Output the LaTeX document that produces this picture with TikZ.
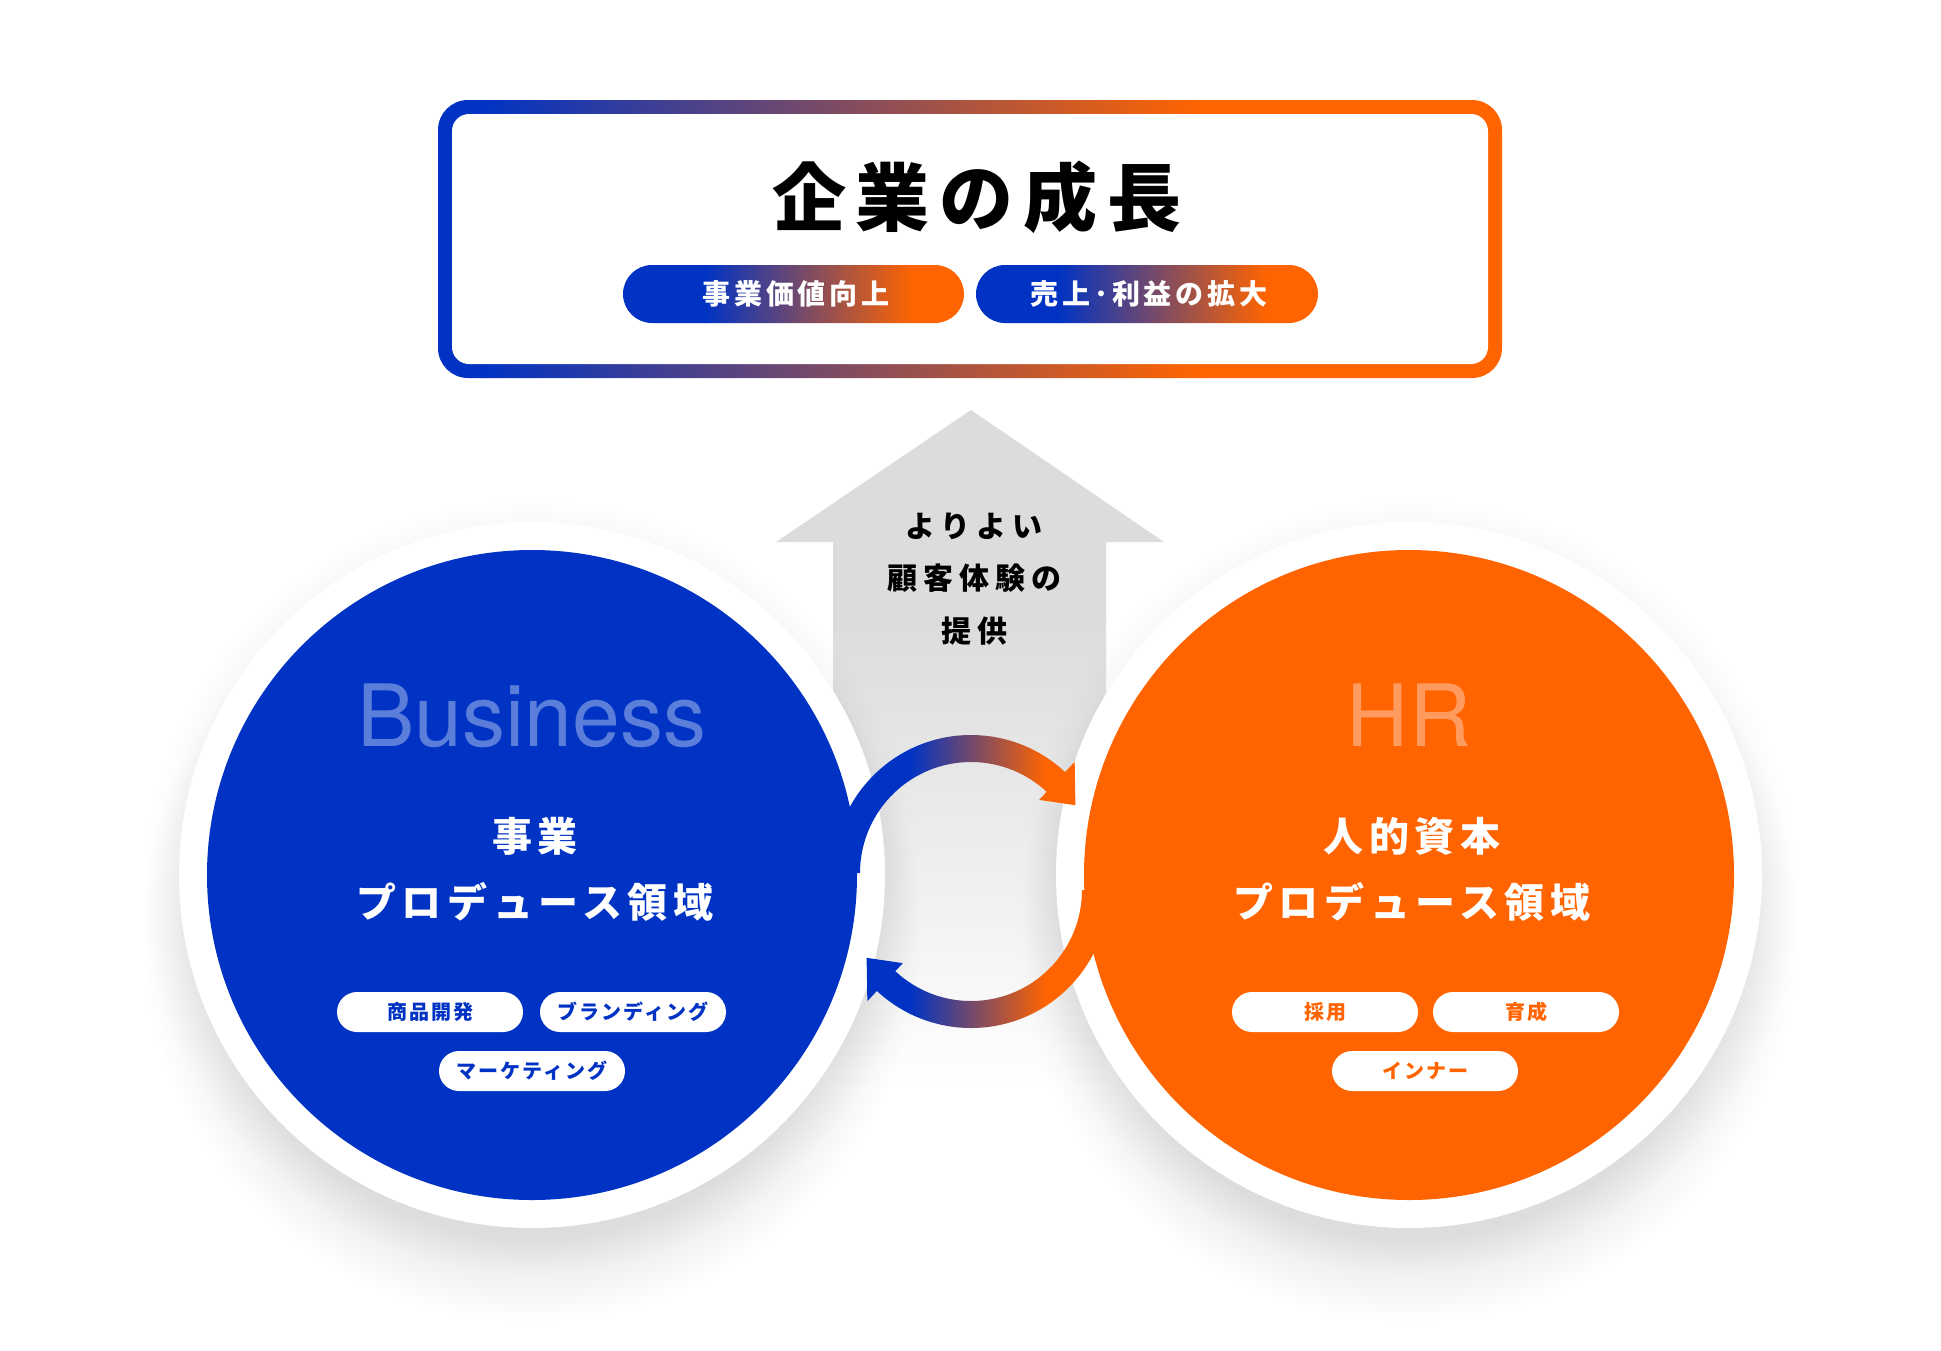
\documentclass[tikz,border=0pt]{standalone}
\usepackage{fontspec}
\usetikzlibrary{calc}
\newfontfamily\jp{Noto Sans CJK JP}
\newfontfamily\heros{TeX Gyre Heros}
\definecolor{cb}{HTML}{0033C4}
\definecolor{co}{HTML}{FF6400}
\definecolor{lb}{HTML}{5A7EDA}
\definecolor{lo}{HTML}{FF9B5E}
\definecolor{gr}{HTML}{DCDCDC}
\tikzset{
  jtext/.style={inner sep=0pt, anchor=center},
  tagbox/.style={fill=white, rounded corners=20pt, minimum width=186pt, minimum height=40pt, inner sep=0pt,
    font=\jp\bfseries\fontsize{20}{24}\selectfont\addfontfeature{LetterSpace=10}},
  tagL/.style={tagbox, text=cb},
  tagR/.style={tagbox, text=co},
  pilltext/.style={jtext, text=white, font=\jp\bfseries\fontsize{28}{32}\selectfont\addfontfeature{LetterSpace=14}},
  circtext/.style={jtext, text=white, font=\jp\bfseries\fontsize{40}{46}\selectfont\addfontfeature{LetterSpace=14}},
  arrowtext/.style={jtext, text=black, font=\jp\bfseries\fontsize{30}{34}\selectfont\addfontfeature{LetterSpace=20}},
  bigword/.style={inner sep=0pt, anchor=base, font=\heros\fontsize{86}{90}\selectfont},
}
\begin{document}
\begin{tikzpicture}[x=1pt,y=-1pt]
\useasboundingbox (0,0) rectangle (1941,1350);
\fill[white] (0,0) rectangle (1941,1350);

\coordinate (L) at (532,875);
\coordinate (R) at (1409,875);
\coordinate (C1) at (971,873);
\coordinate (C2) at (971,890);

% ---------- top box ----------
\begin{scope}
  \clip[rounded corners=30pt] (438,100) rectangle (1502,378);
  \fill[cb] (430,90) rectangle (481,390);
  \shade[left color=cb, right color=co] (480,90) rectangle (1201,390);
  \fill[co] (1200,90) rectangle (1510,390);
\end{scope}
\fill[white, rounded corners=17pt] (452,114) rectangle (1488,364);
\node[jtext, font=\jp\bfseries\fontsize{74}{80}\selectfont\addfontfeature{LetterSpace=13.5}] (title) at (977,197) {企業の成長};

\begin{scope}
  \clip[rounded corners=29pt] (623,265) rectangle (964,323);
  \fill[cb] (620,260) rectangle (706,330);
  \shade[left color=cb, right color=co] (705,260) rectangle (914,330);
  \fill[co] (913,260) rectangle (970,330);
\end{scope}
\begin{scope}
  \clip[rounded corners=29pt] (976,265) rectangle (1318,323);
  \fill[cb] (970,260) rectangle (1059,330);
  \shade[left color=cb, right color=co] (1058,260) rectangle (1267,330);
  \fill[co] (1266,260) rectangle (1325,330);
\end{scope}
\node[pilltext] (p1) at (796,294) {事業価値向上};
\node[pilltext] (p2) at (1149,294) {売上･利益の拡大};

% ---------- grey arrow ----------
\begin{scope}
  \clip (971,410) -- (1164,542) -- (1106,542) -- (1106,1090) -- (833,1090) -- (833,542) -- (776,542) -- cycle;
  \fill[gr] (770,400) rectangle (1170,621);
  \shade[top color=gr, bottom color=white] (770,620) rectangle (1170,1090);
\end{scope}
\node[arrowtext] (t1) at (974,526) {よりよい};
\node[arrowtext] (t2) at (974,578) {顧客体験の};
\node[arrowtext] (t3) at (974,631) {提供};

% ---------- shadows ----------
\foreach \c in {L,R}{
  \foreach \i in {0,...,23}{
    \fill[black, opacity=0.0055] ($(\c)+(0,58)$) circle[radius={310+3.4*\i}];
  }
  \foreach \i in {0,...,9}{
    \fill[black, opacity=0.0035] ($(\c)+(0,12)$) circle[radius={350+4*\i}];
  }
}

% ---------- circles ----------
\fill[white] (L) circle[radius=353];
\fill[white] (R) circle[radius=353];
\fill[cb] (L) circle[radius=325];
\fill[co] (R) circle[radius=325];

% ---------- cycle arrows ----------
\begin{scope}
  \clip ($(C1)+(180:138)$) arc[start angle=180, end angle=313, radius=138]
        -- ($(C1)+(-47:152)$) -- ($(C1)+(-33:124.5)$) -- ($(C1)+(-47:100)$)
        -- ($(C1)+(-47:111)$) arc[start angle=313, end angle=180, radius=111] -- cycle
        ($(C2)+(0:138)$) arc[start angle=0, end angle=133, radius=138]
        -- ($(C2)+(133:152)$) -- ($(C2)+(147:124.5)$) -- ($(C2)+(133:100)$)
        -- ($(C2)+(133:111)$) arc[start angle=133, end angle=0, radius=111] -- cycle;
  \fill[cb] (820,720) rectangle (911,1040);
  \shade[left color=cb, right color=co] (910,720) rectangle (1046,1040);
  \fill[co] (1045,720) rectangle (1120,1040);
\end{scope}

% ---------- circle texts ----------
\node[bigword, text=lb] (biz) at (532,746) {Business};
\node[bigword, text=lo] (hr) at (1409,746) {HR};
\node[circtext] (l1) at (535,836) {事業};
\node[circtext] (l2) at (535,902) {プロデュース領域};
\node[circtext] (r1) at (1412,836) {人的資本};
\node[circtext] (r2) at (1412,902) {プロデュース領域};

\node[tagL] (a1) at (430,1012) {商品開発};
\node[tagL] (a2) at (633,1012) {ブランディング};
\node[tagL] (a3) at (532,1071) {マーケティング};
\node[tagR] (b1) at (1325,1012) {採用};
\node[tagR] (b2) at (1526,1012) {育成};
\node[tagR] (b3) at (1425,1071) {インナー};
\end{tikzpicture}
\end{document}
